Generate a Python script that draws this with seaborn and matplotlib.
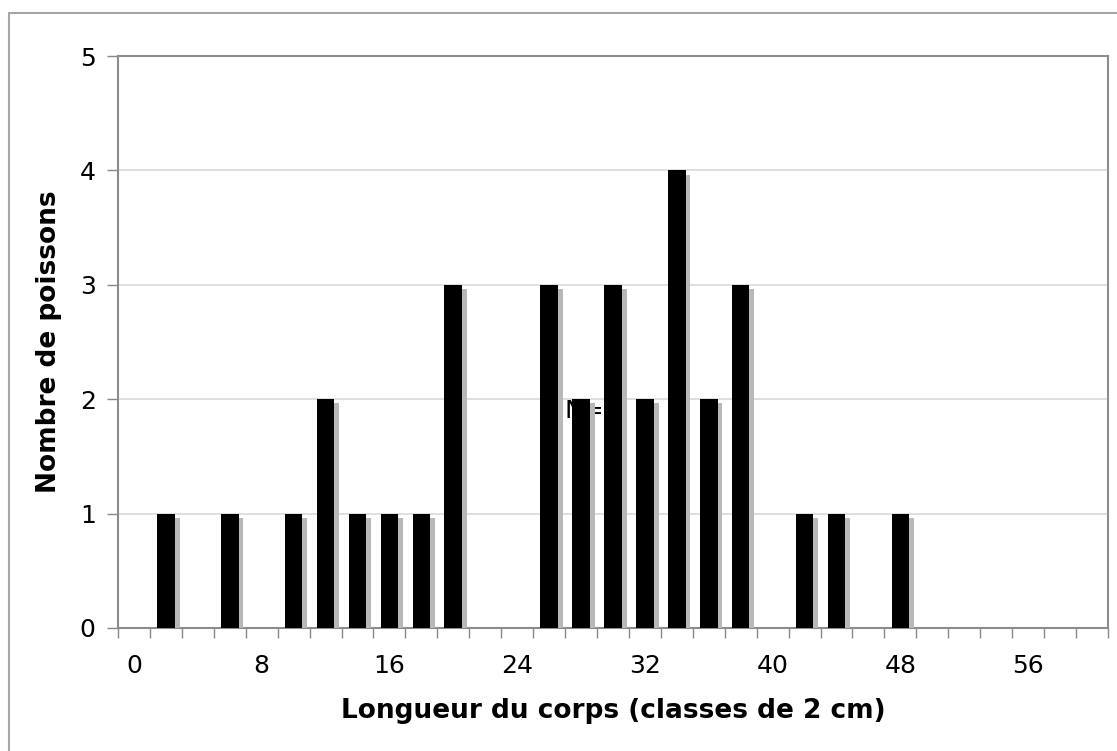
import pandas as pd
import matplotlib
matplotlib.use("Agg")
import matplotlib.pyplot as plt
import matplotlib.patheffects as pe
from matplotlib.lines import Line2D
from matplotlib.ticker import FixedLocator
import seaborn as sns

# ── data ─────────────────────────────────────────────────────
classes = list(range(0, 62, 2))          # classes de 2 cm : 0 .. 60
counts = [0, 1, 0, 1, 0, 1, 2, 1, 1, 1, 3, 0, 0, 3, 2, 3,
          2, 4, 2, 3, 0, 1, 1, 0, 1, 0, 0, 0, 0, 0, 0]
tick_labels = ["0", "8", "16", "24", "32", "40", "48", "56"]
y_ticks = [0, 1, 2, 3, 4, 5]

df = pd.DataFrame({"classe": [str(c) for c in classes], "n": counts})

# ── style ────────────────────────────────────────────────────
sns.set_style("white")
plt.rcParams["font.family"] = ["DejaVu Sans"]
plt.rcParams["text.color"] = "black"
plt.rcParams["xtick.color"] = "black"
plt.rcParams["ytick.color"] = "black"
plt.rcParams["axes.labelcolor"] = "black"

fig = plt.figure(figsize=(11.17, 7.51), dpi=100)
ax = fig.add_axes([0.1056, 0.1638, 0.8863, 0.7616])

sns.barplot(data=df, x="classe", y="n", order=df["classe"], color="black",
            width=0.55, saturation=1, linewidth=0, ax=ax, zorder=3)

# ombre grise à droite des barres
for p in ax.patches:
    if p.get_height() > 0:
        p.set_path_effects([
            pe.SimplePatchShadow(offset=(3.5, -3), shadow_rgbFace="0.72", alpha=1),
            pe.Normal(),
        ])
    else:
        p.set_visible(False)

# axes
ax.set_ylim(0, 5)
ax.set_xlim(-0.5, len(classes) - 0.5)
ax.set_yticks(y_ticks)
ax.set_xticks(range(0, len(classes), 4))
ax.set_xticklabels(tick_labels)
ax.xaxis.set_minor_locator(FixedLocator([i - 0.5 for i in range(len(classes) + 1)]))
ax.tick_params(axis="x", which="major", length=0, labelsize=18, pad=19)
ax.tick_params(axis="x", which="minor", length=7, width=1, color="#888888",
               direction="out", bottom=True)
ax.tick_params(axis="y", length=8, width=1, color="#888888", direction="out",
               left=True, labelsize=18, pad=8)

ax.yaxis.grid(True, color="#d9d9d9", linewidth=1.2, zorder=0)
ax.set_axisbelow(True)
for s in ax.spines.values():
    s.set_visible(True)
    s.set_color("#8c8c8c")
    s.set_linewidth(1.5)

ax.set_xlabel("Longueur du corps (classes de 2 cm)", fontsize=19, fontweight="bold")
ax.set_ylabel("Nombre de poissons", fontsize=19, fontweight="bold")
ax.xaxis.set_label_coords(0.5, -0.123)
ax.yaxis.set_label_coords(-0.0566, 0.5)

# texte « N= » caché derrière les barres
ax.text(13.47, 1.9, "N=", fontsize=18, ha="left", va="center", zorder=1)

# cadre extérieur (gauche et haut)
x0, y0 = 9.5 / 1117, 1 - 12.5 / 751
fig.add_artist(Line2D([x0, x0], [0, y0], transform=fig.transFigure,
                      color="#a6a6a6", lw=1.5))
fig.add_artist(Line2D([x0, 1], [y0, y0], transform=fig.transFigure,
                      color="#a6a6a6", lw=1.5))

fig.savefig("out.png", dpi=100)
